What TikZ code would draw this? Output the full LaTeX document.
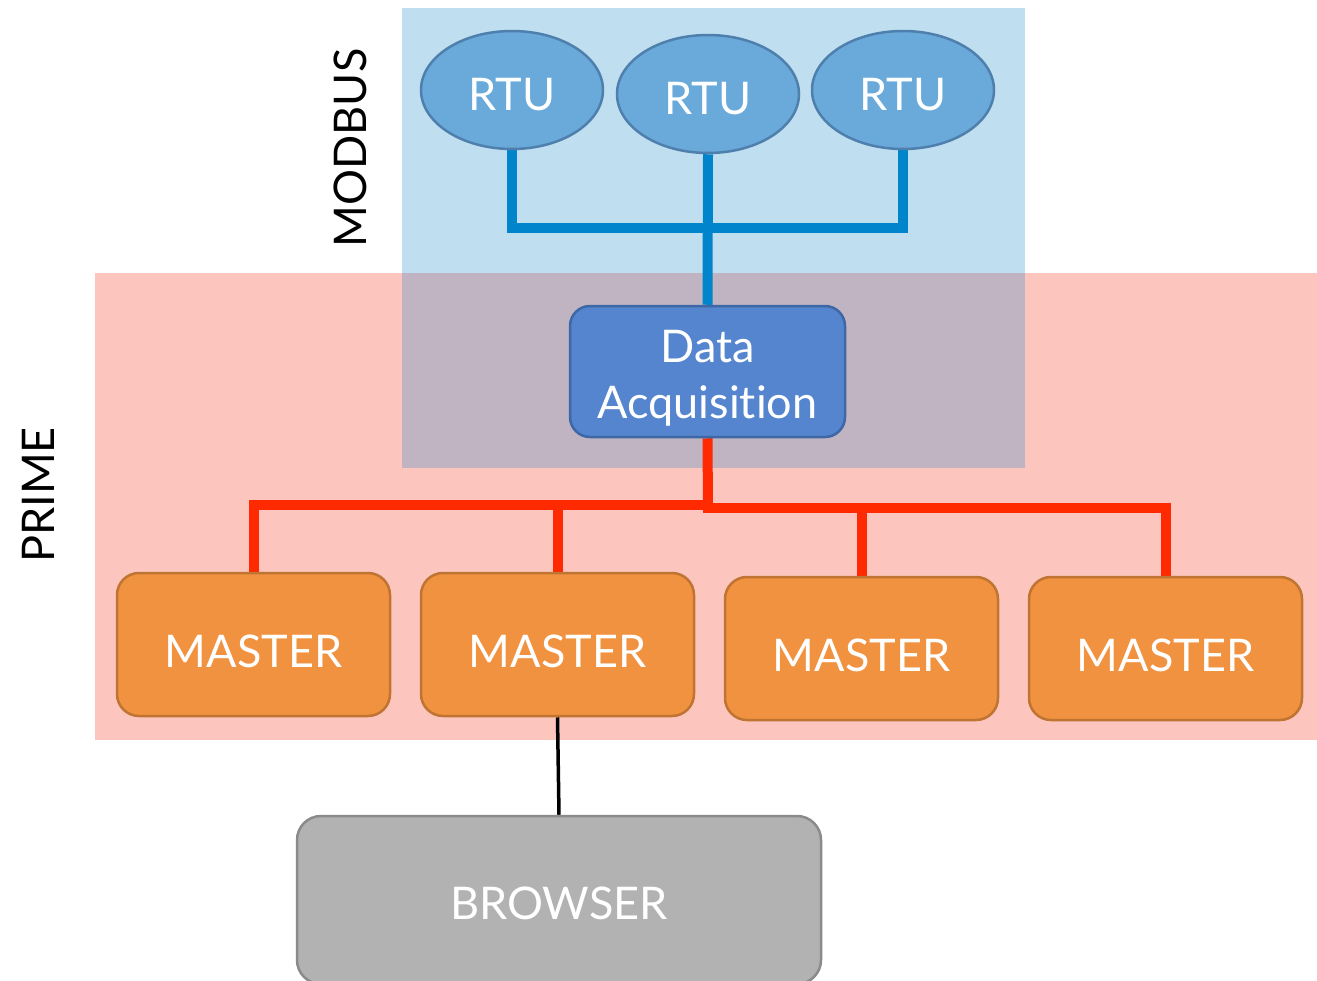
\documentclass[tikz,border=0pt]{standalone}
\usepackage{fontspec}
\setmainfont{Lato}[Ligatures=NoCommon]
\usetikzlibrary{shapes.geometric}
\definecolor{pinkbg}{HTML}{FCC6BF}
\definecolor{bluebg}{HTML}{BFDFF0}
\definecolor{overbg}{HTML}{C0B4C3}
\definecolor{rtufill}{HTML}{6AAADA}
\definecolor{rtudraw}{HTML}{4F7FAD}
\definecolor{dafill}{HTML}{5585CE}
\definecolor{dadraw}{HTML}{3E67A6}
\definecolor{mfill}{HTML}{F19240}
\definecolor{mdraw}{HTML}{C07431}
\definecolor{bfill}{HTML}{B2B2B2}
\definecolor{bdraw}{HTML}{8B8B8B}
\definecolor{bline}{HTML}{0085CC}
\definecolor{rline}{HTML}{FF2A00}
\pgfdeclarelayer{bg}
\pgfsetlayers{bg,main}
\tikzset{
  txt/.style={font=\fontsize{45}{56}\selectfont, text=white},
  rtu/.style={txt, ellipse, fill=rtufill, draw=rtudraw, line width=2.5pt, minimum width=182pt, minimum height=118pt, inner sep=0pt, text height=41pt, text depth=0pt},
  da/.style={txt, rounded corners=20pt, fill=dafill, draw=dadraw, line width=2.5pt, minimum width=275pt, minimum height=131pt, align=center, inner sep=0pt, text height=93pt, text depth=0pt},
  master/.style={txt, rounded corners=22pt, fill=mfill, draw=mdraw, line width=2.5pt, minimum width=273pt, minimum height=143pt, inner sep=0pt, text height=45pt, text depth=0pt},
  browser/.style={txt, rounded corners=24pt, fill=bfill, draw=bdraw, line width=2.5pt, minimum width=524pt, minimum height=168pt, inner sep=0pt, text height=38pt, text depth=0pt},
  blueline/.style={draw=bline, line width=10pt},
  redline/.style={draw=rline, line width=10pt},
  lbl/.style={font=\fontsize{45}{56}\selectfont, text=black, rotate=90},
}
\begin{document}
\begin{tikzpicture}[x=1pt,y=-1pt]
\useasboundingbox (0,0) rectangle (1317,980);

\node[lbl] (modbus) at (350,148) {MODBUS};
\node[lbl] (prime) at (38,495) {PRIME};

\coordinate (bj) at (708,228);
\coordinate (rl) at (708,505);
\coordinate (rjb) at (708,508);
\coordinate (rr) at (703,508);

\node[rtu] (r1) at (512,90) {RTU};
\node[rtu] (r2) at (708,94) {RTU};
\node[rtu] (r3) at (903,90) {RTU};
\node[da] (da) at (707.5,371.5) {Data\\Acquisition};
\node[master] (m1) at (253.5,644.5) {MASTER};
\node[master] (m2) at (557.5,644.5) {MASTER};
\node[master] (m3) at (861.5,648.5) {MASTER};
\node[master] (m4) at (1165.5,648.5) {MASTER};
\node[browser] (br) at (559,900) {BROWSER};

\begin{pgfonlayer}{bg}
\fill[pinkbg] (95,273) rectangle (1317,740);
\fill[bluebg] (402,8) rectangle (1025,468);
\fill[overbg] (402,273) rectangle (1025,468);
\draw[blueline] (r1.south) |- (bj) -| (r3.south);
\draw[blueline] (r2.south) -- (da.north);
\draw[redline] (da.south) -- (rjb);
\draw[redline] (m1.north) |- (rl);
\draw[redline] (m2.north) -- (m2.north |- rl);
\draw[redline] (m3.north) -- (m3.north |- rjb);
\draw[redline] (m4.north) |- (rr);
\draw[black, line width=3.5pt] (m2.south) -- (br.north);
\end{pgfonlayer}
\end{tikzpicture}
\end{document}
